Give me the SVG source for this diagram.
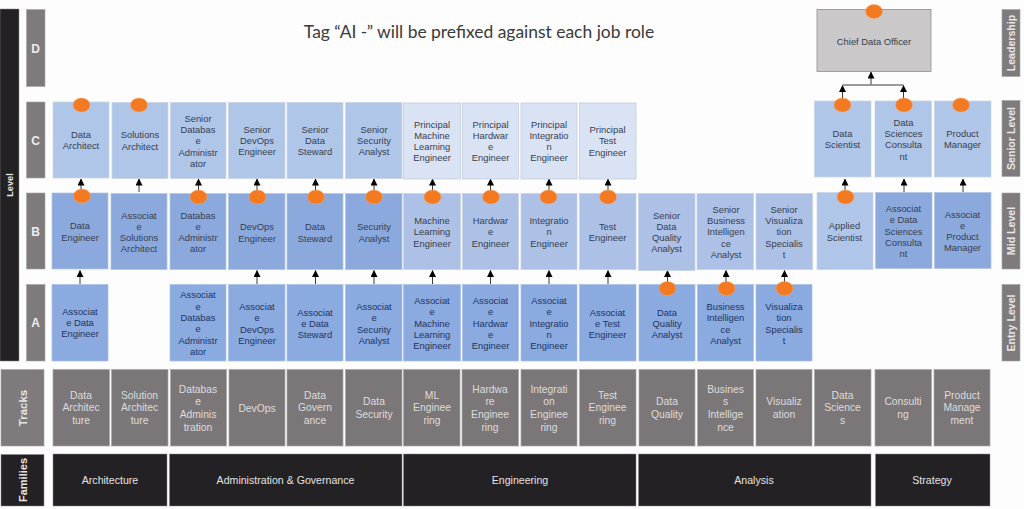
<svg xmlns="http://www.w3.org/2000/svg" width="1024" height="509" viewBox="0 0 1024 509">
<style>
text{font-family:"Liberation Sans",Arial,sans-serif;text-anchor:middle}
.title{font-family:Lato,"Open Sans",sans-serif;font-size:17.45px;fill:#3a3a3a}
.n{font-size:9.4px;fill:#343e50}
.na{font-size:9.4px;fill:#22345f}
.t{font-size:10.3px;fill:#dedcdc}
.f{font-size:10.6px;fill:#e4e4e4}
.side{font-size:10.6px;font-weight:bold;fill:#e6e6e6}
.g{font-size:12px;font-weight:bold;fill:#ececec}
.bar{fill:#7f7b7c;stroke:#a5a3a3;stroke-width:.6}
.dark{fill:#232123;stroke:#8a8a8a;stroke-width:.5}
.trk{fill:#7b7778;stroke:#a9a7a7;stroke-width:.7}
.s{fill:#b0c6e8;stroke:#c9d3e4;stroke-width:.7}
.p{fill:#dae3f4;stroke:#bcc6d8;stroke-width:.7}
.m{fill:#8ca9dd;stroke:#b3c3df;stroke-width:.7}
.l{fill:#adc1e6;stroke:#c5d0e3;stroke-width:.7}
.e{fill:#8aaae0;stroke:#a9c0e6;stroke-width:.7}
.cdo{fill:#cbc8c9;stroke:#8f8d90;stroke-width:.8}
.o{fill:#f37a20;stroke:#f7a468;stroke-width:.5}
.c{stroke:#3a3a3a;stroke-width:1;fill:none}
</style>
<defs><marker id="ah2" markerUnits="userSpaceOnUse" markerWidth="7" markerHeight="7" refX="6.5" refY="3.5" orient="auto" viewBox="0 0 7 7"><path d="M0 0L7 3.5L0 7Z" fill="#000"/></marker></defs>
<rect width="1024" height="509" fill="#fdfdfd"/>
<text id="title" class="title" x="479" y="37.5">Tag “AI -” will be prefixed against each job role</text>

<g id="connectors" class="c" marker-end="url(#ah2)">
<path d="M81 192V179"/><path d="M139 192V179"/><path d="M198.500 192V179"/><path d="M257 192V179"/><path d="M315.500 192V179"/><path d="M374 192V179"/><path d="M432.500 192V179"/><path d="M490.500 192V179"/><path d="M549 192V179"/><path d="M608 192V179"/>
<path d="M845 192V179"/><path d="M904 192V179"/><path d="M963 192V179"/>
<path d="M80 284V270.500"/><path d="M257 284V270.500"/><path d="M315.500 284V270.500"/><path d="M374 284V270.500"/><path d="M432.500 284V270.500"/><path d="M490.500 284V270.500"/><path d="M549 284V270.500"/><path d="M608 284V270.500"/><path d="M667.500 284V270.500"/><path d="M726 284V270.500"/><path d="M784.500 284V270.500"/>
<path d="M871 84.500V72"/>
<path d="M842.500 100V85.500"/><path d="M903.500 100V85.500"/>
<path d="M842.500 85H903.500" marker-end="none"/>
</g>

<g id="axis-left">
<rect class="dark" x="0" y="9" width="19" height="352"/>
<text class="side" style="font-size:9.200px" transform="translate(13 185) rotate(-90)">Level</text>
<rect class="bar" x="26.500" y="9.500" width="18.500" height="77"/><text class="g" x="35.500" y="52.500">D</text>
<rect class="bar" x="26.500" y="102" width="18.500" height="76"/><text class="g" x="35.500" y="144.500">C</text>
<rect class="bar" x="26.500" y="193" width="18.500" height="76"/><text class="g" x="35.500" y="235.500">B</text>
<rect class="bar" x="26.500" y="284.500" width="18.500" height="76.500"/><text class="g" x="35.500" y="327">A</text>
<rect class="bar" x="1" y="369.500" width="43" height="76.500"/><text class="side" style="font-size:11.500px" transform="translate(27 408) rotate(-90)">Tracks</text>
<rect class="dark" x="1" y="454.500" width="43" height="51.500"/><text class="side" style="font-size:11px" transform="translate(26.500 480) rotate(-90)">Families</text>
</g>

<g id="axis-right">
<rect class="bar" x="1002" y="9.500" width="18" height="67"/><text class="side" transform="translate(1015 43) rotate(-90)">Leadership</text>
<rect class="bar" x="1002" y="100.500" width="18" height="76"/><text class="side" transform="translate(1015 138.500) rotate(-90)">Senior Level</text>
<rect class="bar" x="1002" y="193" width="18" height="76"/><text class="side" transform="translate(1015 231) rotate(-90)">Mid Level</text>
<rect class="bar" x="1002" y="284.500" width="18" height="76.500"/><text class="side" transform="translate(1015 323) rotate(-90)">Entry Level</text>
</g>

<g id="cdo"><rect class="cdo" x="817" y="9.500" width="114" height="62"/><ellipse class="o" cx="874" cy="11.500" rx="8.500" ry="7"/><text class="n" x="874" y="44.500">Chief Data Officer</text></g>

<!-- Level C -->
<g id="c1"><rect class="s" x="53" y="102" width="56" height="76"/><ellipse class="o" cx="81.500" cy="105" rx="8.500" ry="7"/><text class="n" x="81" y="137.700">Data<tspan x="81" dy="11.300">Architect</tspan></text></g>
<g id="c2"><rect class="s" x="112" y="102.500" width="56" height="76"/><ellipse class="o" cx="139" cy="105" rx="8.500" ry="7"/><text class="n" x="140" y="138.200">Solutions<tspan x="140" dy="11.300">Architect</tspan></text></g>
<g id="c3"><rect class="s" x="170.500" y="102.500" width="55.500" height="76"/><text class="n" x="198" y="121.700">Senior<tspan x="198" dy="11.300">Databas</tspan><tspan x="198" dy="11.300">e</tspan><tspan x="198" dy="11.300">Administr</tspan><tspan x="198" dy="11.300">ator</tspan></text></g>
<g id="c4"><rect class="s" x="228.500" y="102.500" width="56.500" height="76"/><text class="n" x="257" y="132.700">Senior<tspan x="257" dy="11.300">DevOps</tspan><tspan x="257" dy="11.300">Engineer</tspan></text></g>
<g id="c5"><rect class="s" x="287" y="102.500" width="56" height="76"/><text class="n" x="315" y="132.700">Senior<tspan x="315" dy="11.300">Data</tspan><tspan x="315" dy="11.300">Steward</tspan></text></g>
<g id="c6"><rect class="s" x="345.500" y="102.500" width="56.500" height="76"/><text class="n" x="374" y="132.700">Senior<tspan x="374" dy="11.300">Security</tspan><tspan x="374" dy="11.300">Analyst</tspan></text></g>
<g id="c7"><rect class="p" x="403.500" y="103" width="57" height="76"/><text class="n" x="432" y="127.500">Principal<tspan x="432" dy="11.300">Machine</tspan><tspan x="432" dy="11.300">Learning</tspan><tspan x="432" dy="11.300">Engineer</tspan></text></g>
<g id="c8"><rect class="p" x="462.500" y="103" width="56" height="76"/><text class="n" x="490.500" y="127.500">Principal<tspan x="490.500" dy="11.300">Hardwar</tspan><tspan x="490.500" dy="11.300">e</tspan><tspan x="490.500" dy="11.300">Engineer</tspan></text></g>
<g id="c9"><rect class="p" x="521" y="103" width="56" height="76"/><text class="n" x="549" y="127.500">Principal<tspan x="549" dy="11.300">Integratio</tspan><tspan x="549" dy="11.300">n</tspan><tspan x="549" dy="11.300">Engineer</tspan></text></g>
<g id="c10"><rect class="p" x="579.500" y="103" width="56.500" height="76"/><text class="n" x="607.500" y="133">Principal<tspan x="607.500" dy="11.300">Test</tspan><tspan x="607.500" dy="11.300">Engineer</tspan></text></g>
<g id="c14"><rect class="s" x="814.500" y="101" width="56.500" height="76"/><ellipse class="o" cx="842.500" cy="105" rx="8.500" ry="7"/><text class="n" x="842.500" y="136.700">Data<tspan x="842.500" dy="11.300">Scientist</tspan></text></g>
<g id="c15"><rect class="s" x="875" y="101" width="56.500" height="76"/><ellipse class="o" cx="904" cy="105" rx="8.500" ry="7"/><text class="n" x="903.500" y="125.700">Data<tspan x="903.500" dy="11.300">Sciences</tspan><tspan x="903.500" dy="11.300">Consulta</tspan><tspan x="903.500" dy="11.300">nt</tspan></text></g>
<g id="c16"><rect class="s" x="934.500" y="101" width="56.500" height="76"/><ellipse class="o" cx="961" cy="105" rx="8.500" ry="7"/><text class="n" x="962.500" y="136.700">Product<tspan x="962.500" dy="11.300">Manager</tspan></text></g>

<!-- Level B -->
<g id="b1"><rect class="m" x="52" y="193" width="56" height="76"/><ellipse class="o" cx="82" cy="196" rx="8.500" ry="7"/><text class="n" x="80" y="229.200">Data<tspan x="80" dy="11.300">Engineer</tspan></text></g>
<g id="b2"><rect class="m" x="111" y="193.500" width="56" height="76"/><text class="n" x="139" y="218.500">Associat<tspan x="139" dy="11.300">e</tspan><tspan x="139" dy="11.300">Solutions</tspan><tspan x="139" dy="11.300">Architect</tspan></text></g>
<g id="b3"><rect class="m" x="170" y="193.500" width="56" height="76"/><ellipse class="o" cx="198.500" cy="197" rx="8.500" ry="7"/><text class="n" x="198" y="218.500">Databas<tspan x="198" dy="11.300">e</tspan><tspan x="198" dy="11.300">Administr</tspan><tspan x="198" dy="11.300">ator</tspan></text></g>
<g id="b4"><rect class="m" x="228.500" y="193.500" width="56.500" height="76"/><ellipse class="o" cx="257.500" cy="197" rx="8.500" ry="7"/><text class="n" x="257" y="230.200">DevOps<tspan x="257" dy="11.300">Engineer</tspan></text></g>
<g id="b5"><rect class="m" x="287" y="193.500" width="56" height="76"/><ellipse class="o" cx="316" cy="197" rx="8.500" ry="7"/><text class="n" x="315" y="230.200">Data<tspan x="315" dy="11.300">Steward</tspan></text></g>
<g id="b6"><rect class="m" x="345.500" y="193.500" width="56.500" height="76"/><ellipse class="o" cx="374" cy="197" rx="8.500" ry="7"/><text class="n" x="374" y="230.200">Security<tspan x="374" dy="11.300">Analyst</tspan></text></g>
<g id="b7"><rect class="l" x="403.500" y="193.500" width="57" height="76"/><ellipse class="o" cx="432.500" cy="197" rx="8.500" ry="7"/><text class="n" x="432" y="224">Machine<tspan x="432" dy="11.300">Learning</tspan><tspan x="432" dy="11.300">Engineer</tspan></text></g>
<g id="b8"><rect class="l" x="462.500" y="193.500" width="56" height="76"/><ellipse class="o" cx="491" cy="197" rx="8.500" ry="7"/><text class="n" x="490.500" y="224">Hardwar<tspan x="490.500" dy="11.300">e</tspan><tspan x="490.500" dy="11.300">Engineer</tspan></text></g>
<g id="b9"><rect class="l" x="521" y="193.500" width="56" height="76"/><ellipse class="o" cx="548.500" cy="197" rx="8.500" ry="7"/><text class="n" x="549" y="224">Integratio<tspan x="549" dy="11.300">n</tspan><tspan x="549" dy="11.300">Engineer</tspan></text></g>
<g id="b10"><rect class="l" x="579.500" y="193.500" width="56.500" height="76"/><ellipse class="o" cx="608" cy="197" rx="8.500" ry="7"/><text class="n" x="607.500" y="229.700">Test<tspan x="607.500" dy="11.300">Engineer</tspan></text></g>
<g id="b11"><rect class="l" x="638.500" y="193.500" width="56.500" height="77"/><text class="n" x="666.500" y="218.500">Senior<tspan x="666.500" dy="11.300">Data</tspan><tspan x="666.500" dy="11.300">Quality</tspan><tspan x="666.500" dy="11.300">Analyst</tspan></text></g>
<g id="b12"><rect class="l" x="697" y="193.500" width="56.500" height="76"/><text class="n" x="726" y="212.700">Senior<tspan x="726" dy="11.300">Business</tspan><tspan x="726" dy="11.300">Intelligen</tspan><tspan x="726" dy="11.300">ce</tspan><tspan x="726" dy="11.300">Analyst</tspan></text></g>
<g id="b13"><rect class="l" x="756" y="193.500" width="56.500" height="76"/><text class="n" x="784" y="212.700">Senior<tspan x="784" dy="11.300">Visualiza</tspan><tspan x="784" dy="11.300">tion</tspan><tspan x="784" dy="11.300">Specialis</tspan><tspan x="784" dy="11.300">t</tspan></text></g>
<g id="b14"><rect class="s" x="817" y="192.500" width="56" height="77"/><ellipse class="o" cx="845.500" cy="197" rx="8.500" ry="7"/><text class="n" x="844.500" y="229.200">Applied<tspan x="844.500" dy="11.300">Scientist</tspan></text></g>
<g id="b15"><rect class="m" x="875.500" y="192.500" width="56.500" height="76"/><text class="n" x="903.500" y="212">Associat<tspan x="903.500" dy="11.300">e Data</tspan><tspan x="903.500" dy="11.300">Sciences</tspan><tspan x="903.500" dy="11.300">Consulta</tspan><tspan x="903.500" dy="11.300">nt</tspan></text></g>
<g id="b16"><rect class="m" x="934.500" y="192.500" width="56.500" height="76"/><text class="n" x="962.500" y="217.500">Associat<tspan x="962.500" dy="11.300">e</tspan><tspan x="962.500" dy="11.300">Product</tspan><tspan x="962.500" dy="11.300">Manager</tspan></text></g>

<!-- Level A -->
<g id="a1"><rect class="e" x="52" y="284.500" width="56" height="76.500"/><text class="na" x="80" y="314.500">Associat<tspan x="80" dy="11.300">e Data</tspan><tspan x="80" dy="11.300">Engineer</tspan></text></g>
<g id="a3"><rect class="e" x="170" y="284.500" width="56" height="76.500"/><text class="na" x="198" y="298.300">Associat<tspan x="198" dy="11.300">e</tspan><tspan x="198" dy="11.300">Databas</tspan><tspan x="198" dy="11.300">e</tspan><tspan x="198" dy="11.300">Administr</tspan><tspan x="198" dy="11.300">ator</tspan></text></g>
<g id="a4"><rect class="e" x="228.500" y="284.500" width="56.500" height="76.500"/><text class="na" x="257" y="310">Associat<tspan x="257" dy="11.300">e</tspan><tspan x="257" dy="11.300">DevOps</tspan><tspan x="257" dy="11.300">Engineer</tspan></text></g>
<g id="a5"><rect class="e" x="287" y="284.500" width="56" height="76.500"/><text class="na" x="315" y="315.500">Associat<tspan x="315" dy="11.300">e Data</tspan><tspan x="315" dy="11.300">Steward</tspan></text></g>
<g id="a6"><rect class="e" x="345.500" y="284.500" width="56.500" height="76.500"/><text class="na" x="374" y="310">Associat<tspan x="374" dy="11.300">e</tspan><tspan x="374" dy="11.300">Security</tspan><tspan x="374" dy="11.300">Analyst</tspan></text></g>
<g id="a7"><rect class="e" x="403.500" y="284.500" width="57" height="76.500"/><text class="na" x="432" y="304">Associat<tspan x="432" dy="11.300">e</tspan><tspan x="432" dy="11.300">Machine</tspan><tspan x="432" dy="11.300">Learning</tspan><tspan x="432" dy="11.300">Engineer</tspan></text></g>
<g id="a8"><rect class="e" x="462.500" y="284.500" width="56" height="76.500"/><text class="na" x="490.500" y="304">Associat<tspan x="490.500" dy="11.300">e</tspan><tspan x="490.500" dy="11.300">Hardwar</tspan><tspan x="490.500" dy="11.300">e</tspan><tspan x="490.500" dy="11.300">Engineer</tspan></text></g>
<g id="a9"><rect class="e" x="521" y="284.500" width="56" height="76.500"/><text class="na" x="549" y="304">Associat<tspan x="549" dy="11.300">e</tspan><tspan x="549" dy="11.300">Integratio</tspan><tspan x="549" dy="11.300">n</tspan><tspan x="549" dy="11.300">Engineer</tspan></text></g>
<g id="a10"><rect class="e" x="579.500" y="284.500" width="56.500" height="76.500"/><text class="na" x="607.500" y="315.500">Associat<tspan x="607.500" dy="11.300">e Test</tspan><tspan x="607.500" dy="11.300">Engineer</tspan></text></g>
<g id="a11"><rect class="e" x="639" y="284.500" width="56" height="76.500"/><ellipse class="o" cx="667.500" cy="288.500" rx="8.500" ry="7"/><text class="na" x="667" y="315.500">Data<tspan x="667" dy="11.300">Quality</tspan><tspan x="667" dy="11.300">Analyst</tspan></text></g>
<g id="a12"><rect class="e" x="697.500" y="284.500" width="56" height="76.500"/><ellipse class="o" cx="726.500" cy="288.500" rx="8.500" ry="7"/><text class="na" x="725.500" y="310">Business<tspan x="725.500" dy="11.300">Intelligen</tspan><tspan x="725.500" dy="11.300">ce</tspan><tspan x="725.500" dy="11.300">Analyst</tspan></text></g>
<g id="a13"><rect class="e" x="756" y="284.500" width="56" height="76.500"/><ellipse class="o" cx="784.500" cy="288.500" rx="8.500" ry="7"/><text class="na" x="784" y="310">Visualiza<tspan x="784" dy="11.300">tion</tspan><tspan x="784" dy="11.300">Specialis</tspan><tspan x="784" dy="11.300">t</tspan></text></g>

<!-- Tracks -->
<g id="t1"><rect class="trk" x="53" y="369.500" width="56.500" height="76.500"/><text class="t" x="81" y="398.700">Data<tspan x="81" dy="12.700">Architec</tspan><tspan x="81" dy="12.700">ture</tspan></text></g>
<g id="t2"><rect class="trk" x="111.500" y="369.500" width="56.500" height="76.500"/><text class="t" x="139.500" y="398.700">Solution<tspan x="139.500" dy="12.700">Architec</tspan><tspan x="139.500" dy="12.700">ture</tspan></text></g>
<g id="t3"><rect class="trk" x="170.500" y="369.500" width="56" height="76.500"/><text class="t" x="198" y="392.500">Databas<tspan x="198" dy="12.700">e</tspan><tspan x="198" dy="12.700">Adminis</tspan><tspan x="198" dy="12.700">tration</tspan></text></g>
<g id="t4"><rect class="trk" x="229" y="369.500" width="56" height="76.500"/><text class="t" x="257" y="411.500">DevOps</text></g>
<g id="t5"><rect class="trk" x="287" y="369.500" width="56" height="76.500"/><text class="t" x="315" y="398.700">Data<tspan x="315" dy="12.700">Govern</tspan><tspan x="315" dy="12.700">ance</tspan></text></g>
<g id="t6"><rect class="trk" x="345.500" y="369.500" width="56.500" height="76.500"/><text class="t" x="374" y="405">Data<tspan x="374" dy="12.700">Security</tspan></text></g>
<g id="t7"><rect class="trk" x="403.500" y="369.500" width="56.500" height="76.500"/><text class="t" x="432" y="398.700">ML<tspan x="432" dy="12.700">Enginee</tspan><tspan x="432" dy="12.700">ring</tspan></text></g>
<g id="t8"><rect class="trk" x="462" y="369.500" width="56.500" height="76.500"/><text class="t" x="490" y="392.500">Hardwa<tspan x="490" dy="12.700">re</tspan><tspan x="490" dy="12.700">Enginee</tspan><tspan x="490" dy="12.700">ring</tspan></text></g>
<g id="t9"><rect class="trk" x="521" y="369.500" width="56" height="76.500"/><text class="t" x="549" y="392.500">Integrati<tspan x="549" dy="12.700">on</tspan><tspan x="549" dy="12.700">Enginee</tspan><tspan x="549" dy="12.700">ring</tspan></text></g>
<g id="t10"><rect class="trk" x="579.500" y="369.500" width="56.500" height="76.500"/><text class="t" x="607.500" y="398.700">Test<tspan x="607.500" dy="12.700">Enginee</tspan><tspan x="607.500" dy="12.700">ring</tspan></text></g>
<g id="t11"><rect class="trk" x="639" y="369.500" width="56" height="76.500"/><text class="t" x="667" y="405">Data<tspan x="667" dy="12.700">Quality</tspan></text></g>
<g id="t12"><rect class="trk" x="697.500" y="369.500" width="56" height="76.500"/><text class="t" x="725.500" y="392.500">Busines<tspan x="725.500" dy="12.700">s</tspan><tspan x="725.500" dy="12.700">Intellige</tspan><tspan x="725.500" dy="12.700">nce</tspan></text></g>
<g id="t13"><rect class="trk" x="756" y="369.500" width="56" height="76.500"/><text class="t" x="784" y="405">Visualiz<tspan x="784" dy="12.700">ation</tspan></text></g>
<g id="t14"><rect class="trk" x="814.500" y="369.500" width="56.500" height="76.500"/><text class="t" x="842.500" y="398.700">Data<tspan x="842.500" dy="12.700">Science</tspan><tspan x="842.500" dy="12.700">s</tspan></text></g>
<g id="t15"><rect class="trk" x="875" y="369.500" width="56.500" height="76.500"/><text class="t" x="903" y="405">Consulti<tspan x="903" dy="12.700">ng</tspan></text></g>
<g id="t16"><rect class="trk" x="934" y="369.500" width="56" height="76.500"/><text class="t" x="962" y="398.700">Product<tspan x="962" dy="12.700">Manage</tspan><tspan x="962" dy="12.700">ment</tspan></text></g>

<!-- Families -->
<g id="f1"><rect class="dark" x="53" y="454" width="114" height="52"/><text class="f" x="110" y="483.700">Architecture</text></g>
<g id="f2"><rect class="dark" x="169.500" y="454" width="232.500" height="52"/><text class="f" x="285.500" y="483.700">Administration &amp; Governance</text></g>
<g id="f3"><rect class="dark" x="403.500" y="454" width="232.500" height="52"/><text class="f" x="520" y="483.700">Engineering</text></g>
<g id="f4"><rect class="dark" x="638.500" y="454" width="232.500" height="52"/><text class="f" x="754" y="483.700">Analysis</text></g>
<g id="f5"><rect class="dark" x="875.500" y="454" width="114.500" height="52"/><text class="f" x="932" y="483.700">Strategy</text></g>
</svg>
